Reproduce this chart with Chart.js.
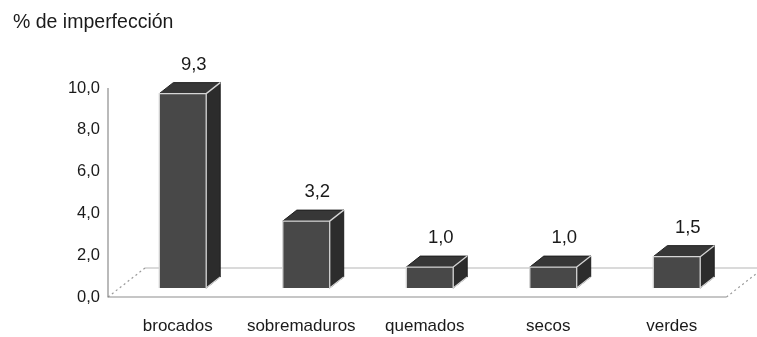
<!DOCTYPE html>
<html>
<head>
<meta charset="utf-8">
<script src="https://cdn.jsdelivr.net/npm/chart.js@4"></script>
<style>
  html, body { margin: 0; padding: 0; background: #fff; }
  #wrap { width: 757px; height: 337px; position: relative; }
</style>
</head>
<body>
<div id="wrap"><canvas id="chart" width="757" height="337"></canvas></div>
<script>
const categories = ['brocados', 'sobremaduros', 'quemados', 'secos', 'verdes']
const values = [9.3, 3.2, 1.0, 1.0, 1.5]
const yTicks = [0, 2, 4, 6, 8, 10]
const yTitle = '% de imperfección'

const FONT = '"Liberation Sans", Arial, Helvetica, sans-serif'
const fmt = v => v.toFixed(1).replace('.', ',')

// floor depth and how far the bars sit behind the front plane
const floorDx = 37, floorDy = -29
const barDx = 5, barDy = -9
const boxDx = 14, boxDy = -11

const floorPlugin = {
    id: 'floor',
    beforeDatasetsDraw(chart) {
        const { ctx, chartArea } = chart
        const y0 = chart.scales.y.getPixelForValue(0)
        const yTop = chart.scales.y.getPixelForValue(10)
        const ax = chartArea.left - 8
        const fx = chartArea.right - 7
        ctx.save()
        ctx.lineWidth = 1.2

        // back edge of the floor
        ctx.strokeStyle = '#b5b5b5'
        ctx.beginPath()
        ctx.moveTo(ax + floorDx, y0 + floorDy)
        ctx.lineTo(fx + floorDx + 10, y0 + floorDy)
        ctx.stroke()

        // dotted sides
        ctx.strokeStyle = '#9a9a9a'
        ctx.setLineDash([2, 3])
        ctx.beginPath()
        ctx.moveTo(ax, y0)
        ctx.lineTo(ax + floorDx, y0 + floorDy)
        ctx.moveTo(fx, y0)
        ctx.lineTo(fx + floorDx, y0 + floorDy)
        ctx.stroke()
        ctx.setLineDash([])

        // front edge and value axis
        ctx.strokeStyle = '#8d8d8d'
        ctx.beginPath()
        ctx.moveTo(ax, yTop)
        ctx.lineTo(ax, y0)
        ctx.lineTo(fx, y0)
        ctx.stroke()
        ctx.restore()
    }
}

const boxPlugin = {
    id: 'boxes',
    afterDatasetsDraw(chart) {
        const { ctx } = chart
        const meta = chart.getDatasetMeta(0)
        ctx.save()
        meta.data.forEach((bar, i) => {
            const w = bar.width
            const x1 = bar.x - w / 2 + barDx
            const x2 = bar.x + w / 2 + barDx
            const yt = bar.y + barDy
            const yb = bar.base + barDy

            // right side
            ctx.fillStyle = '#2c2c2c'
            ctx.beginPath()
            ctx.moveTo(x2, yt)
            ctx.lineTo(x2 + boxDx, yt + boxDy)
            ctx.lineTo(x2 + boxDx, yb + boxDy)
            ctx.lineTo(x2, yb)
            ctx.closePath()
            ctx.fill()
            ctx.strokeStyle = '#1e1e1e'
            ctx.lineWidth = 1
            ctx.stroke()

            // top
            ctx.fillStyle = '#373737'
            ctx.beginPath()
            ctx.moveTo(x1, yt)
            ctx.lineTo(x1 + boxDx, yt + boxDy)
            ctx.lineTo(x2 + boxDx, yt + boxDy)
            ctx.lineTo(x2, yt)
            ctx.closePath()
            ctx.fill()
            ctx.stroke()

            // front
            ctx.fillStyle = '#484848'
            ctx.fillRect(x1, yt, w, yb - yt)
            ctx.strokeStyle = '#d6d6d6'
            ctx.lineWidth = 1.3
            ctx.beginPath()
            ctx.moveTo(x1, yb)
            ctx.lineTo(x1, yt)
            ctx.lineTo(x2, yt)
            ctx.lineTo(x2, yb)
            ctx.lineTo(x2 + boxDx, yb + boxDy)
            ctx.moveTo(x2, yt)
            ctx.lineTo(x2 + boxDx, yt + boxDy)
            ctx.stroke()

            // value above the box
            ctx.fillStyle = '#1a1a1a'
            ctx.font = '18.5px ' + FONT
            ctx.textAlign = 'center'
            ctx.textBaseline = 'middle'
            ctx.fillText(fmt(values[i]), bar.x + barDx + 11, yt + boxDy - 18)
        })

        ctx.fillStyle = '#1a1a1a'
        ctx.font = '19.5px ' + FONT
        ctx.textAlign = 'left'
        ctx.textBaseline = 'middle'
        ctx.fillText(yTitle, 13, 23)
        ctx.restore()
    }
}

new Chart(document.getElementById('chart'), {
    type: 'bar',
    data: {
        labels: categories,
        datasets: [{
            data: values,
            backgroundColor: 'rgba(0,0,0,0)',
            borderWidth: 0,
            barPercentage: 0.38,
            categoryPercentage: 1
        }]
    },
    options: {
        responsive: false,
        animation: false,
        layout: { padding: { top: 88, right: 23.5, left: 0, bottom: 0 } },
        plugins: {
            legend: { display: false },
            tooltip: { enabled: false }
        },
        scales: {
            x: {
                grid: { display: false, drawTicks: false },
                border: { display: false },
                afterFit: s => { s.height = 40 },
                ticks: {
                    color: '#1a1a1a',
                    font: { family: FONT, size: 17 },
                    padding: 19,
                    maxRotation: 0
                }
            },
            y: {
                min: 0,
                max: 10,
                afterFit: s => { s.width = 116 },
                afterBuildTicks: s => { s.ticks = yTicks.map(v => ({ value: v })) },
                grid: { display: false, drawTicks: false },
                border: { display: false },
                ticks: {
                    color: '#1a1a1a',
                    font: { family: FONT, size: 16.5 },
                    padding: 16,
                    callback: v => fmt(v)
                }
            }
        }
    },
    plugins: [floorPlugin, boxPlugin]
})
</script>
</body>
</html>
